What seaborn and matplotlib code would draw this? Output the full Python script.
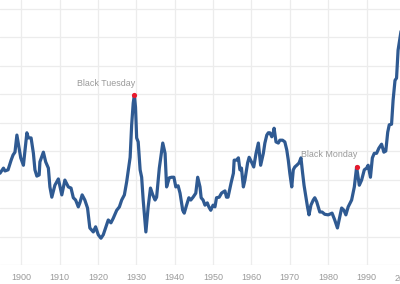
import matplotlib
matplotlib.use("Agg")
import matplotlib.pyplot as plt
import matplotlib.transforms as mtransforms
import seaborn as sns
import pandas as pd

years = [1894.5, 1895.4, 1895.8, 1896.6, 1897.4, 1897.9, 1898.4, 1898.9, 1899.2, 1899.9,
         1900.6, 1901.5, 1901.9, 1902.6, 1903.2, 1903.6, 1904.1, 1904.7, 1904.9, 1905.8,
         1906.4, 1907.1, 1907.5, 1908.0, 1908.8, 1909.7, 1910.6, 1911.4, 1912.3, 1913.0,
         1913.6, 1914.2, 1914.9, 1915.3, 1915.9, 1916.6, 1917.3, 1917.9, 1918.8, 1919.4,
         1920.1, 1920.8, 1921.4, 1922.1, 1922.7, 1923.4, 1924.0, 1924.9, 1925.6, 1926.2,
         1926.9, 1927.5, 1928.4, 1928.8, 1929.2, 1929.5, 1929.8, 1930.1, 1930.5, 1931.0,
         1931.4, 1931.8, 1932.5, 1933.1, 1933.7, 1934.3, 1934.9, 1935.3, 1936.0, 1936.9,
         1937.5, 1937.9, 1938.6, 1939.2, 1939.8, 1940.3, 1940.9, 1941.4, 1942.1, 1942.5,
         1943.1, 1943.7, 1944.2, 1944.8, 1945.5, 1946.0, 1946.6, 1946.9, 1947.4, 1947.9,
         1948.5, 1948.9, 1949.4, 1950.0, 1950.5, 1950.9, 1951.6, 1952.2, 1952.6, 1953.1,
         1953.5, 1953.9, 1954.7, 1955.3, 1955.5, 1956.1, 1956.6, 1957.0, 1957.4, 1957.9,
         1958.3, 1959.0, 1959.4, 1960.0, 1960.6, 1961.2, 1961.8, 1962.4, 1963.1, 1963.5,
         1964.0, 1964.4, 1964.8, 1965.3, 1965.7, 1965.9, 1966.4, 1967.0, 1967.4, 1968.1,
         1968.7, 1969.2, 1969.6, 1970.0, 1970.5, 1970.9, 1971.3, 1971.8, 1972.4, 1972.9,
         1973.3, 1973.7, 1974.2, 1974.6, 1975.0, 1975.5, 1976.1, 1976.5, 1977.0, 1977.4,
         1977.8, 1978.4, 1979.1, 1980.0, 1981.0, 1981.7, 1982.4, 1983.0, 1983.5, 1984.1,
         1984.6, 1985.2, 1986.1, 1986.8, 1987.4, 1988.1, 1988.7, 1989.4, 1990.0, 1990.4,
         1991.0, 1991.5, 1992.0, 1992.6, 1993.2, 1993.9, 1994.5, 1995.0, 1995.5, 1995.9,
         1996.5, 1996.9, 1997.4, 1997.8, 1998.2, 1998.7, 1999.5]

cape = [16.1, 17.0, 16.5, 16.7, 18.4, 19.3, 19.8, 22.8, 21.6, 18.8,
        17.5, 23.2, 22.3, 22.3, 19.6, 16.7, 15.6, 15.8, 18.1, 19.8,
        18.1, 17.0, 13.7, 11.9, 14.0, 15.1, 12.3, 14.9, 13.7, 13.5,
        11.8, 11.4, 10.2, 10.9, 12.3, 11.4, 10.0, 6.5, 5.8, 6.7,
        5.3, 4.7, 5.3, 6.7, 7.9, 7.4, 8.2, 9.6, 10.2, 11.4,
        12.3, 14.6, 18.9, 24.6, 28.4, 29.8, 27.7, 22.3, 21.6, 16.7,
        15.4, 11.4, 5.8, 10.2, 13.5, 12.3, 11.4, 11.9, 17.0, 21.4,
        19.6, 13.7, 15.3, 15.4, 15.4, 13.7, 13.9, 12.6, 9.6, 9.1,
        10.5, 11.8, 11.4, 11.9, 12.6, 15.4, 13.7, 11.8, 11.4, 10.5,
        10.9, 10.2, 9.6, 10.5, 10.2, 11.8, 11.9, 12.6, 12.8, 13.0,
        11.9, 11.9, 14.4, 16.1, 18.4, 18.4, 18.8, 16.7, 17.0, 13.7,
        14.9, 17.9, 18.9, 18.1, 17.2, 19.6, 21.4, 17.5, 19.6, 21.4,
        22.8, 23.2, 23.2, 22.5, 23.3, 24.0, 21.6, 21.4, 21.9, 21.9,
        21.6, 20.2, 18.4, 16.1, 13.7, 16.7, 17.2, 17.5, 17.9, 18.8,
        16.3, 14.0, 11.9, 10.2, 8.8, 10.5, 11.4, 11.8, 11.1, 10.2,
        9.3, 9.3, 8.9, 8.8, 9.1, 7.9, 6.5, 8.4, 10.0, 9.6,
        8.8, 10.2, 11.4, 13.7, 17.2, 14.0, 14.9, 16.7, 17.0, 17.5,
        15.4, 18.8, 19.6, 19.6, 20.5, 21.2, 19.8, 20.0, 23.3, 24.6,
        24.7, 28.9, 32.4, 32.8, 37.7, 39.8, 43.5]

event_labels = ["Black Tuesday", "Black Monday"]
event_years = [1929.5, 1987.4]
event_values = [29.8, 17.2]

tick_years = [1900, 1910, 1920, 1930, 1940, 1950, 1960, 1970, 1980, 1990]
y_grid = [0, 5, 10, 15, 20, 25, 30, 35, 40, 45]

sns.set_style("white")
plt.rcParams['font.family'] = ['Liberation Sans', 'DejaVu Sans']

W, H = 400, 284
fig = plt.figure(figsize=(W / 100, H / 100), dpi=100)
ax = fig.add_axes([0, 19 / H, 1, 265 / H])

df = pd.DataFrame({"year": years, "cape": cape})
sns.lineplot(data=df, x="year", y="cape", ax=ax, color="#2f5a92", linewidth=2.3,
             solid_joinstyle="round", solid_capstyle="round")

ax.scatter(event_years, event_values, s=14, color="#e8192c", zorder=5, linewidths=0)
for lab, ex, ey in zip(event_labels, event_years, event_values):
    ax.annotate(lab, xy=(ex, ey), xytext=(1, 12), textcoords="offset pixels",
                ha="right", va="center", fontsize=6.4, color="#9a9a9a")

ax.set_xlim(1894.5, 1998.7)
ax.set_ylim(0, 46.5)
ax.set_xticks(tick_years)
ax.set_xticklabels([str(t) for t in tick_years])
ax.set_yticks(y_grid)
ax.set_yticklabels([])
ax.grid(True, color="#ececec", linewidth=0.9)
ax.set_axisbelow(True)
ax.tick_params(axis="x", length=0, pad=5.5, labelsize=6.5, labelcolor="#9a9a9a")
ax.tick_params(axis="y", length=0)
for s in ax.spines.values():
    s.set_visible(False)
ax.set_xlabel("")
ax.set_ylabel("")

trans = mtransforms.blended_transform_factory(ax.transData, ax.transAxes)
ax.text(2000, 0, "2000", transform=trans, ha="center", va="top", fontsize=6.5,
        color="#9a9a9a", clip_on=False,
        bbox=None).set_position((2000, -8 / 265 - 0.003))

fig.savefig("out.png", dpi=100)
